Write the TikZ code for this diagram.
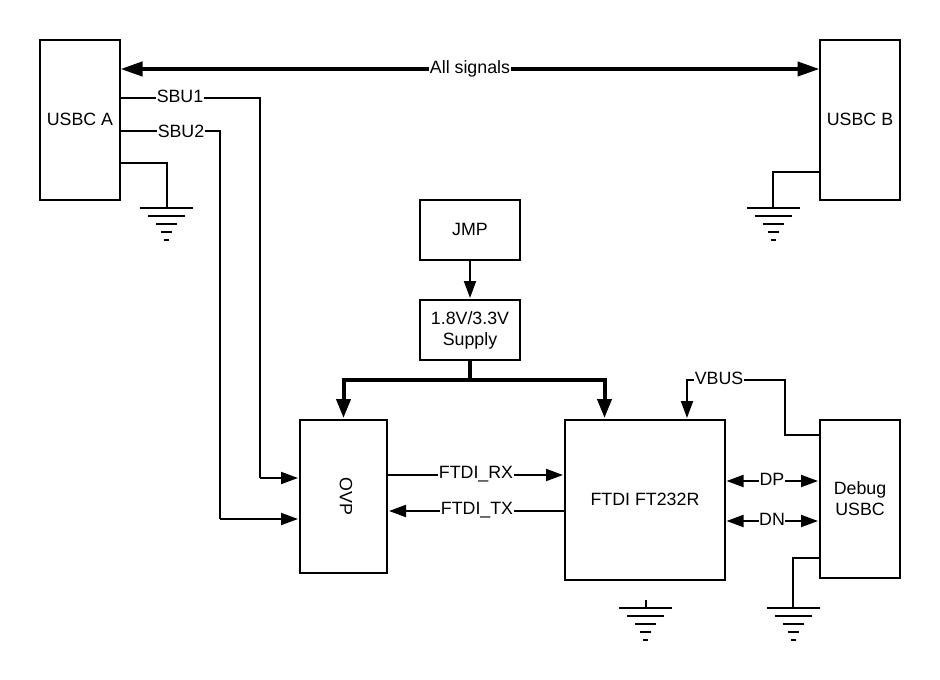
\documentclass[tikz,border=0pt]{standalone}
\usepackage{fontspec}
\setmainfont{Liberation Sans}
\usetikzlibrary{arrows.meta,calc}
\tikzset{
  blockbox/.style={draw=black,line width=2pt,fill=white,minimum width=#1,outer sep=0pt,inner sep=0pt,align=center,font=\fontsize{17.8}{21}\selectfont},
  wire/.style={draw=black,line width=2pt},
  buswire/.style={draw=black,line width=4pt},
  sig/.style={wire,-{Triangle[length=17pt,width=12pt]},shorten >=2pt},
  sigboth/.style={wire,{Triangle[length=17pt,width=12pt]}-{Triangle[length=17pt,width=12pt]},shorten >=2pt,shorten <=1.5pt},
  bus/.style={buswire,-{Triangle[length=19pt,width=14pt]},shorten >=2pt},
  busboth/.style={buswire,{Triangle[length=22pt,width=14pt]}-{Triangle[length=22pt,width=14pt]},shorten >=0.5pt,shorten <=0.5pt},
  tag/.style={fill=white,inner sep=0.5pt,outer sep=0pt,font=\fontsize{17.8}{20}\selectfont},
  groundbar/.style={draw=black,line width=2pt}
}
\newcommand{\groundat}[1]{%
  \draw[groundbar] ($(#1)+(-26.5,0)$) -- ($(#1)+(26.5,0)$);
  \draw[groundbar] ($(#1)+(-18.5,8)$) -- ($(#1)+(18.5,8)$);
  \draw[groundbar] ($(#1)+(-10.5,16)$) -- ($(#1)+(10.5,16)$);
  \draw[groundbar] ($(#1)+(-5.5,24)$) -- ($(#1)+(5.5,24)$);
  \draw[groundbar] ($(#1)+(-2.5,32)$) -- ($(#1)+(2.5,32)$);
}
\newcommand{\liftlabel}[1]{\raisebox{2pt}{#1}}
\begin{document}
\begin{tikzpicture}[x=1pt,y=-1pt]
\useasboundingbox (0,0) rectangle (940,680);
\fill[white] (0,0) rectangle (940,680);
% blocks
\node[blockbox=80pt,minimum height=160pt] (usba) at (80,120) {\liftlabel{USBC A}};
\node[blockbox=80pt,minimum height=160pt] (usbb) at (860,120) {\liftlabel{USBC B}};
\node[blockbox=100pt,minimum height=60pt] (jmp) at (470,230) {\liftlabel{JMP}};
\node[blockbox=100pt,minimum height=60pt] (supply) at (470,330) {1.8V/3.3V\\Supply};
\node[blockbox=87pt,minimum height=153pt] (ovp) at (343.5,496.5) {\hspace{5pt}\rotatebox{-90}{OVP}};
\node[blockbox=160pt,minimum height=160pt] (ftdi) at (645,500) {\liftlabel{FTDI FT232R}};
\node[blockbox=80pt,minimum height=158pt] (debug) at (860,499) {Debug\\USBC};
% ground anchor points
\coordinate (gndA) at (166.5,208);
\coordinate (gndB) at (773,208);
\coordinate (gndF) at (645.5,608);
\coordinate (gndD) at (793,608);
\coordinate (gndFtop) at (645.5,600);
% all signals
\draw[busboth] (usba.east |- 0,69) -- (usbb.west |- 0,69) node[pos=0.5,tag] (allsig) {All signals};
% SBU lines
\draw[wire] (usba.east |- 0,98) -- (260,98) -- (260,478);
\draw[sig] (260,478) -- (ovp.west |- 0,478);
\node[tag] (sbu1) at (180,96) {SBU1};
\draw[wire] (usba.east |- 0,131) -- (220,131) -- (220,519);
\draw[sig] (220,519) -- (ovp.west |- 0,519);
\node[tag] (sbu2) at (181,131) {SBU2};
% grounds
\draw[wire] (usba.east |- 0,163) -| (gndA);
\groundat{gndA}
\draw[wire] (usbb.west |- 0,172) -| (gndB);
\groundat{gndB}
\draw[wire] (gndFtop) -- (gndF);
\groundat{gndF}
\draw[wire] (debug.west |- 0,558) -| (gndD);
\groundat{gndD}
% supply
\draw[sig] (jmp) -- (supply);
\draw[buswire] (supply.south) -- (470,380);
\draw[bus] (470,380) -| (ovp.north -| 343.5,0);
\draw[bus] (470,380) -| (ftdi.north -| 604.5,0);
% FTDI signals
\draw[sig] (ovp.east |- 0,475) -- (ftdi.west |- 0,475);
\node[tag] (rx) at (476,474) {FTDI\_RX};
\draw[sig] (ftdi.west |- 0,511) -- (ovp.east |- 0,511);
\node[tag] (tx) at (477,510) {FTDI\_TX};
% VBUS
\draw[wire] (debug.west |- 0,435) -- (785,435) -- (785,380) -- (687,380) -- (687,400);
\draw[sig] (687,385) -- (ftdi.north -| 687,0);
\node[tag] (vbus) at (719,378) {VBUS};
% DP DN
\draw[sigboth] (ftdi.east |- 0,481) -- (debug.west |- 0,481);
\node[tag] (dp) at (772,479) {DP};
\draw[sigboth] (ftdi.east |- 0,521) -- (debug.west |- 0,521);
\node[tag] (dn) at (772,519) {DN};
\end{tikzpicture}
\end{document}
